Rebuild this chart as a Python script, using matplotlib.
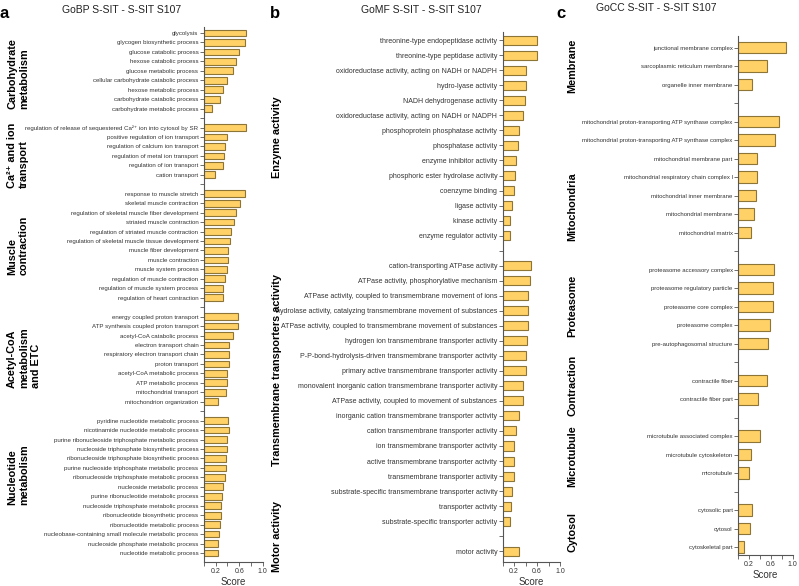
import matplotlib
matplotlib.use("Agg")
import matplotlib.pyplot as plt

W, H = 799, 586

# === DATA ===

bp_groups = ["Carbohydrate\nmetabolism", "Ca²⁺ and ion\ntransport", "Muscle\ncontraction",
             "Acetyl-CoA\nmetabolism\nand ETC", "Nucleotide\nmetabolism"]
bp_terms = [
    ["glycolysis", "glycogen biosynthetic process", "glucose catabolic process",
     "hexose catabolic process", "glucose metabolic process",
     "cellular carbohydrate catabolic process", "hexose metabolic process",
     "carbohydrate catabolic process", "carbohydrate metabolic process"],
    ["regulation of release of sequestered Ca²⁺ ion into cytosol by SR",
     "positive regulation of ion transport", "regulation of calcium ion transport",
     "regulation of metal ion transport", "regulation of ion transport", "cation transport"],
    ["response to muscle stretch", "skeletal muscle contraction",
     "regulation of skeletal muscle fiber development", "striated muscle contraction",
     "regulation of striated muscle contraction",
     "regulation of skeletal muscle tissue development", "muscle fiber development",
     "muscle contraction", "muscle system process", "regulation of muscle contraction",
     "regulation of muscle system process", "regulation of heart contraction"],
    ["energy coupled proton transport", "ATP synthesis coupled proton transport",
     "acetyl-CoA catabolic process", "electron transport chain",
     "respiratory electron transport chain", "proton transport",
     "acetyl-CoA metabolic process", "ATP metabolic process", "mitochondrial transport",
     "mitochondrion organization"],
    ["pyridine nucleotide metabolic process", "nicotinamide nucleotide metabolic process",
     "purine ribonucleoside triphosphate metabolic process",
     "nucleoside triphosphate biosynthetic process",
     "ribonucleoside triphosphate biosynthetic process",
     "purine nucleoside triphosphate metabolic process",
     "ribonucleoside triphosphate metabolic process", "nucleoside metabolic process",
     "purine ribonucleotide metabolic process", "nucleoside triphosphate metabolic process",
     "ribonucleotide biosynthetic process", "ribonucleotide metabolic process",
     "nucleobase-containing small molecule metabolic process",
     "nucleoside phosphate metabolic process", "nucleotide metabolic process"],
]
bp_scores = [
    [0.72, 0.69, 0.60, 0.55, 0.50, 0.39, 0.33, 0.27, 0.14],
    [0.72, 0.40, 0.36, 0.34, 0.32, 0.18],
    [0.70, 0.61, 0.545, 0.505, 0.465, 0.44, 0.415, 0.41, 0.40, 0.35, 0.33, 0.33],
    [0.585, 0.585, 0.50, 0.43, 0.43, 0.42, 0.40, 0.39, 0.37, 0.23],
    [0.415, 0.42, 0.39, 0.39, 0.38, 0.37, 0.35, 0.32, 0.31, 0.295, 0.295, 0.28,
     0.255, 0.245, 0.245],
]

mf_groups = ["Enzyme activity", "Transmembrane transporters activity", "Motor activity"]
mf_terms = [
    ["threonine-type endopeptidase activity", "threonine-type peptidase activity",
     "oxidoreductase activity, acting on NADH or NADPH", "hydro-lyase activity",
     "NADH dehydrogenase activity", "oxidoreductase activity, acting on NADH or NADPH",
     "phosphoprotein phosphatase activity", "phosphatase activity",
     "enzyme inhibitor activity", "phosphoric ester hydrolase activity",
     "coenzyme binding", "ligase activity", "kinase activity",
     "enzyme regulator activity"],
    ["cation-transporting ATPase activity", "ATPase activity, phosphorylative mechanism",
     "ATPase activity, coupled to transmembrane movement of ions",
     "hydrolase activity, catalyzing transmembrane movement of substances",
     "ATPase activity, coupled to transmembrane movement of substances",
     "hydrogen ion transmembrane transporter activity",
     "P-P-bond-hydrolysis-driven transmembrane transporter activity",
     "primary active transmembrane transporter activity",
     "monovalent inorganic cation transmembrane transporter activity",
     "ATPase activity, coupled to movement of substances",
     "inorganic cation transmembrane transporter activity",
     "cation transmembrane transporter activity",
     "ion transmembrane transporter activity",
     "active transmembrane transporter activity",
     "transmembrane transporter activity",
     "substrate-specific transmembrane transporter activity",
     "transporter activity", "substrate-specific transporter activity"],
    ["motor activity"],
]
mf_scores = [
    [0.60, 0.60, 0.41, 0.40, 0.39, 0.36, 0.28, 0.27, 0.24, 0.21, 0.19, 0.16, 0.12, 0.12],
    [0.50, 0.47, 0.45, 0.44, 0.44, 0.43, 0.41, 0.41, 0.35, 0.35, 0.29, 0.23, 0.20,
     0.19, 0.19, 0.17, 0.145, 0.13],
    [0.28],
]

cc_groups = ["Membrane", "Mitochondria", "Proteasome", "Contraction", "Microtubule", "Cytosol"]
cc_terms = [
    ["junctional membrane complex", "sarcoplasmic reticulum membrane",
     "organelle inner membrane"],
    ["mitochondrial proton-transporting ATP synthase complex",
     "mitochondrial proton-transporting ATP synthase complex",
     "mitochondrial membrane part", "mitochondrial respiratory chain complex I",
     "mitochondrial inner membrane", "mitochondrial membrane", "mitochondrial matrix"],
    ["proteasome accessory complex", "proteasome regulatory particle",
     "proteasome core complex", "proteasome complex", "pre-autophagosomal structure"],
    ["contractile fiber", "contractile fiber part"],
    ["microtubule associated complex", "microtubule cytoskeleton", "microtubule"],
    ["cytosolic part", "cytosol", "cytoskeletal part"],
]
cc_scores = [
    [0.87, 0.53, 0.26],
    [0.74, 0.68, 0.35, 0.34, 0.32, 0.29, 0.24],
    [0.66, 0.63, 0.63, 0.58, 0.55],
    [0.52, 0.37],
    [0.39, 0.23, 0.20],
    [0.26, 0.22, 0.10],
]

x_ticks = [0, 0.2, 0.4, 0.6, 0.8, 1.0]
x_ticklabels = ["", "0.2", "", "0.6", "", "1.0"]

# === STYLE ===

SANS = ["Liberation Sans", "DejaVu Sans"]
BAR_FILL = "#FFD166"
BAR_EDGE = "#8C7536"
AX_COL = "#555555"


def build_slots(terms, scores):
    pos, vals, ticks, ticklabels = [], [], [], []
    i = 0
    for g, (tt, ss) in enumerate(zip(terms, scores)):
        if g > 0:
            ticks.append(i)
            ticklabels.append("")
            i += 1
        for lab, v in zip(tt, ss):
            ticks.append(i)
            ticklabels.append(lab)
            pos.append(i)
            vals.append(v)
            i += 1
    return pos, vals, ticks, ticklabels


def px_rect(x0, x1, y0, y1):
    return [x0 / W, 1 - y1 / H, (x1 - x0) / W, (y1 - y0) / H]


def draw_panel(fig, rect, terms, scores, ylim, bar_h, tick_size):
    ax = fig.add_axes(rect)
    pos, vals, ticks, ticklabels = build_slots(terms, scores)
    ax.barh(pos, vals, height=bar_h, color=BAR_FILL, edgecolor=BAR_EDGE, linewidth=0.8)
    ax.set_ylim(*ylim)
    ax.set_xlim(0, 1.0)
    ax.set_yticks(ticks)
    ax.set_yticklabels(ticklabels, family=SANS, fontsize=tick_size, color="#333333")
    ax.set_xticks(x_ticks)
    ax.set_xticklabels(x_ticklabels, family=SANS, fontsize=5, color="#333333")
    ax.tick_params(axis="y", length=3, width=0.6, color=AX_COL, pad=1)
    ax.tick_params(axis="x", length=3, width=0.6, color=AX_COL, pad=1.5)
    for s in ["top", "right"]:
        ax.spines[s].set_visible(False)
    for s in ["left", "bottom"]:
        ax.spines[s].set_color(AX_COL)
        ax.spines[s].set_linewidth(0.8)
    ax.set_xlabel("Score", family=SANS, fontsize=7, color="#333333", labelpad=1.5)
    return ax


fig = plt.figure(figsize=(W / 100, H / 100), dpi=100)

draw_panel(fig, px_rect(204, 262.7, 27, 561.7), bp_terms, bp_scores,
           (55.92, -0.635), 0.72, 4.4)
draw_panel(fig, px_rect(502.7, 560, 31.7, 561.7), mf_terms, mf_scores,
           (34.7, -0.57), 0.6, 5.0)
draw_panel(fig, px_rect(738.3, 792.7, 36, 555), cc_terms, cc_scores,
           (27.42, -0.63), 0.62, 4.35)


def ftext(x, y, s, **kw):
    fig.text(x / W, 1 - y / H, s, **kw)


# panel letters and titles
for (lx, ly, letter) in [(4, 14, "a"), (275, 14, "b"), (561, 14, "c")]:
    ftext(lx, ly, letter, ha="center", va="center", fontsize=12, fontweight="bold",
          family=SANS)
for (tx, ty, title) in [(122, 10, "GoBP S-SIT - S-SIT S107"),
                        (421, 10, "GoMF S-SIT - S-SIT S107"),
                        (656, 8, "GoCC S-SIT - S-SIT S107")]:
    ftext(tx, ty, title, ha="center", va="center", fontsize=7.5, family=SANS,
          color="#222222")

# group labels
bp_label_y = [74, 155, 245, 358, 475]
for g, y in zip(bp_groups, bp_label_y):
    ftext(7, y, g, rotation=90, ha="left", va="center", fontsize=7.8,
          fontweight="bold", family=SANS, linespacing=1.25)

mf_label_y = [137, 370, 537]
for g, y in zip(mf_groups, mf_label_y):
    ftext(277, y, g, rotation=90, ha="center", va="center", fontsize=7.8,
          fontweight="bold", family=SANS)

cc_label_y = [66, 207, 306, 385, 456, 532]
for g, y in zip(cc_groups, cc_label_y):
    ftext(572, y, g, rotation=90, ha="center", va="center", fontsize=7.8,
          fontweight="bold", family=SANS)

fig.savefig("out.png", dpi=100)
